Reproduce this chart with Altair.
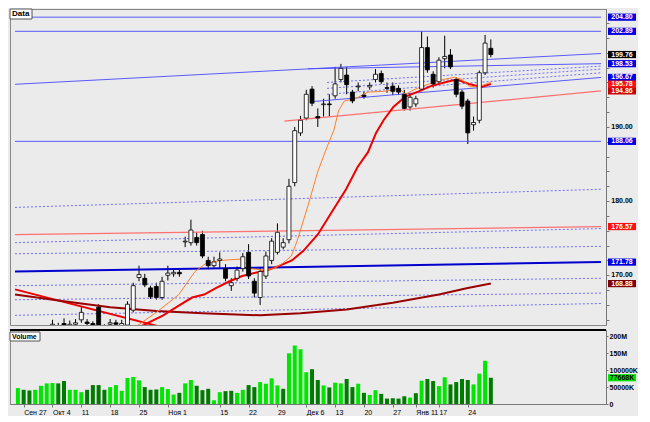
import altair as alt
import pandas as pd

# ---------------- data ----------------
opens = [161.0, 161.4, 161.2, 160.9, 161.8, 162.5, 163.0, 163.2, 163.5, 163.2,
         163.4, 164.0, 163.7, 163.5, 165.7, 163.0, 163.4, 163.6, 163.2, 163.3,
         165.3, 169.7, 169.6, 168.3, 168.5, 167.0, 170.0, 170.2, 170.4, 174.5,
         174.4, 175.1, 175.5, 172.0, 171.3, 172.0, 170.9, 168.6, 169.6, 170.9,
         173.1, 169.2, 167.0, 169.9, 172.0, 173.1, 173.8, 174.8, 182.5, 189.2,
         191.2, 195.1, 191.4, 193.0, 193.1, 194.2, 196.4, 197.0, 194.7, 195.4,
         194.3, 195.4, 196.4, 197.2, 195.3, 195.5, 195.2, 194.4, 192.7, 193.1,
         195.1, 200.7, 197.1, 196.1, 199.2, 199.7, 196.4, 194.7, 193.5, 190.3,
         190.9, 197.3, 200.6]
highs = [161.8, 162.0, 161.8, 162.2, 162.8, 163.3, 164.0, 163.6, 164.2, 163.9,
         164.1, 165.7, 164.1, 163.8, 166.1, 163.4, 164.1, 164.0, 164.0, 166.5,
         169.0, 171.3, 170.2, 168.6, 169.0, 169.8, 171.3, 170.9, 170.9, 175.2,
         177.5, 175.8, 176.0, 172.5, 172.5, 173.1, 171.5, 169.6, 171.2, 173.0,
         174.2, 169.6, 171.0, 173.2, 175.0, 177.0, 175.0, 183.0, 190.0, 191.5,
         195.0, 195.5, 192.5, 193.8, 194.4, 198.1, 198.5, 198.1, 195.0, 196.0,
         194.8, 196.0, 197.8, 197.6, 196.0, 196.0, 195.6, 195.0, 194.5, 194.2,
         202.9, 202.2, 197.5, 199.4, 202.3, 200.5, 196.7, 195.0, 193.8, 191.4,
         197.6, 202.4, 201.8]
lows = [160.2, 160.8, 160.5, 160.6, 161.5, 162.0, 162.5, 162.4, 162.6, 162.7,
        162.9, 163.6, 163.0, 162.5, 162.7, 162.2, 163.0, 162.8, 162.6, 162.8,
        165.0, 169.2, 168.4, 166.8, 166.7, 166.7, 169.3, 169.8, 169.8, 173.8,
        174.0, 174.0, 172.3, 170.8, 171.0, 170.9, 169.2, 167.9, 169.2, 170.5,
        169.5, 167.0, 166.0, 169.5, 171.5, 172.8, 173.5, 174.3, 182.0, 188.8,
        190.9, 192.8, 190.0, 191.4, 191.4, 193.8, 196.0, 194.4, 193.2, 194.8,
        193.8, 195.0, 196.0, 195.8, 194.6, 194.3, 194.3, 192.2, 192.2, 192.7,
        194.8, 197.3, 195.3, 195.8, 197.9, 197.8, 194.0, 192.4, 187.7, 189.5,
        190.5, 197.0, 199.4]
closes = [161.4, 161.2, 160.9, 161.8, 162.5, 162.9, 163.4, 163.0, 163.1, 163.4,
          163.6, 165.0, 163.5, 163.0, 163.1, 162.8, 163.6, 163.4, 163.5, 166.1,
          168.6, 170.1, 168.7, 167.1, 167.0, 169.2, 170.3, 170.4, 170.2, 174.6,
          176.1, 174.4, 172.6, 171.3, 171.8, 172.2, 169.6, 169.0, 170.7, 172.5,
          169.9, 167.6, 170.5, 172.6, 174.6, 175.8, 174.4, 182.0, 189.5, 190.9,
          194.4, 193.2, 191.2, 193.1, 193.0, 195.8, 197.9, 195.7, 193.5, 195.5,
          194.1, 195.6, 197.1, 196.1, 195.2, 194.8, 194.7, 192.5, 194.0, 193.8,
          200.7, 197.7, 195.8, 199.0, 199.5, 198.1, 194.4, 192.8, 189.2, 190.6,
          197.3, 201.3, 199.76]

# volume in millions, and up (1) / down (0) colour flags
volumes = [47, 42, 40, 42, 54, 61, 62, 61, 68, 42, 42, 35, 42, 56, 56, 42, 50, 56, 39, 77,
           80, 70, 50, 42, 43, 50, 44, 28, 33, 61, 71, 54, 41, 45, 11, 35, 38, 39, 33, 42,
           56, 50, 65, 60, 76, 55, 45, 150, 173, 162, 94, 103, 71, 55, 49, 63, 61, 74, 50, 60,
           33, 27, 41, 30, 16, 17, 16, 23, 19, 32, 69, 74, 68, 53, 79, 58, 65, 74, 71, 58,
           90, 128, 77.668]
vol_up = [1, 0, 0, 1, 1, 1, 1, 0, 0, 1, 1, 1, 0, 0, 0, 0, 1, 1, 1, 1,
          1, 1, 0, 0, 0, 1, 1, 1, 0, 1, 1, 0, 0, 0, 1, 1, 0, 0, 1, 1,
          0, 0, 1, 1, 1, 1, 0, 1, 1, 1, 1, 0, 0, 1, 0, 1, 1, 0, 0, 1,
          0, 1, 1, 0, 0, 0, 0, 0, 1, 0, 1, 0, 0, 1, 1, 0, 0, 0, 0, 1,
          1, 1, 0]

# moving averages (bar index, value)
ma_orange = [(19, 163.0), (20.5, 163.1), (24, 165.0), (27.9, 167.4), (30.7, 170.5), (32.6, 171.6),
             (35.1, 172.0), (38.9, 172.2), (40.2, 170.9), (42.6, 170.7), (44.3, 170.9), (45.9, 171.6),
             (47.4, 172.6), (48.4, 174.6), (50.3, 179.4), (52, 184.0), (53.6, 187.3), (54.8, 189.6),
             (55.6, 192.2), (56.6, 193.5), (58.5, 193.8), (60.7, 194.7), (63.4, 194.8), (66.2, 195.1),
             (67.2, 194.4), (68.9, 195.1), (71.1, 195.75), (73.8, 196.4), (75.7, 196.7), (77, 196.4),
             (78.2, 195.5), (79.8, 195.4), (82, 196.0)]
ma_red = [(19.5, 162.3), (21.3, 163.1), (25.2, 164.6), (27.9, 165.9), (30.2, 167.0), (32.3, 167.4),
          (34.4, 168.3), (36.7, 169.2), (38.9, 169.9), (41, 170.3), (43.3, 170.7), (45.4, 171.3),
          (47.5, 172.0), (49.5, 173.3), (52, 175.5), (54.4, 178.5), (56.9, 181.6), (58.9, 184.6),
          (60.7, 186.6), (62.1, 189.2), (63.4, 190.9), (65.1, 192.7), (67.2, 194.1), (69.5, 194.8),
          (71.6, 195.5), (74.4, 196.1), (76.1, 196.4), (78.2, 195.8), (80.3, 195.4), (82, 195.78)]
ma_maroon = [(-0.5, 167.4), (8, 166.5), (16, 165.7), (24, 165.2), (32, 164.9), (42, 164.6),
             (49, 164.9), (57, 165.4), (65, 166.3), (73, 167.4), (78, 168.3), (82, 168.88)]

# trend lines (index1, value1, index2, value2)
lines_blue = [(-0.5, 204.8, 101.1, 204.8), (-0.5, 202.89, 101.1, 202.89), (-0.5, 188.06, 101.1, 188.06),
              (-0.5, 195.75, 101.1, 199.9), (50.3, 197.84, 101.1, 198.53), (50.8, 193.4, 101.1, 196.67)]
lines_blue_thick = [(-0.5, 170.5, 101.1, 171.78)]
lines_pink = [(46.2, 190.78, 101.1, 194.86), (-0.5, 175.49, 101.1, 176.57)]
lines_red = [(-0.5, 168.1, 30, 162.0)]
lines_dotted = [(53.6, 196.0, 101.1, 198.2), (53.6, 195.2, 101.1, 197.8), (53.6, 194.4, 101.1, 197.3),
                (-0.5, 179.15, 101.1, 181.6), (-0.5, 174.4, 101.1, 176.3), (-0.5, 172.9, 101.1, 173.9),
                (-0.5, 168.6, 101.1, 169.6), (-0.5, 166.7, 101.1, 167.6), (-0.5, 164.6, 101.1, 166.2)]

# right-hand price labels
lab_blue = [204.80, 202.89, 198.53, 196.67, 188.06, 171.78]
lab_red = [195.78, 176.57]
lab_darkred = [194.86]
lab_maroon = [168.88]
lab_black = [199.76]
lab_plain = [190.00, 180.00, 170.00]
vol_last = [77.668]

# x-axis date labels
tick_idx = [1, 6, 11, 16, 21, 26, 35, 40, 45, 50, 55, 60, 65, 69, 73, 78]
tick_txt = ["Сен 27", "Окт 4", "11", "18", "25", "Ноя 1", "15", "22", "29",
            "Дек 6", "13", "20", "27", "Янв 11", "17", "24"]

# ---------------- chart ----------------
W, P, V = 596, 316, 74
XDOM = [-0.5, 101.1]
YDOM = [163.3, 205.9]
VDOM = [0, 219]
xs = alt.Scale(domain=XDOM, nice=False, zero=False)
ys = alt.Scale(domain=YDOM, nice=False, zero=False)
vs = alt.Scale(domain=VDOM, nice=False, zero=True)
FONT = "Liberation Sans"
BW, BH = 28, 7.2
BOX = "M-1,-%.3fL1,-%.3fL1,%.3fL-1,%.3fZ" % ((BH / BW,) * 4)

YAX = alt.Axis(orient="right", labels=False, values=list(range(164, 206, 2)), tickSize=3, grid=False,
               title=None, domainColor="#777", tickColor="#777")
vlab = ("datum.value==200?'200M':datum.value==150?'150M':datum.value==100?'100000K':"
        "datum.value==50?'50000K':'0'")
VAX = alt.Axis(orient="right", values=[0, 50, 100, 150, 200], labelExpr=vlab, tickSize=2,
               labelPadding=1, labelFontSize=7, labelFontWeight="bold", title=None, grid=False,
               domainColor="#777", tickColor="#777", labelOverlap=False)

candles = pd.DataFrame({"i": list(range(len(opens))), "o": opens, "h": highs, "l": lows, "c": closes})


def seg_df(segs):
    return pd.DataFrame(segs, columns=["i1", "v1", "i2", "v2"])


def ma_df(pts):
    return pd.DataFrame(pts, columns=["i", "v"])


X = lambda f: alt.X(f, type="quantitative", scale=xs, axis=None)
Y = lambda f: alt.Y(f, type="quantitative", scale=ys, axis=YAX)


def seg_layer(segs, color, width, dash=None, opacity=1.0):
    kw = dict(color=color, strokeWidth=width, clip=True, opacity=opacity)
    if dash:
        kw["strokeDash"] = dash
    return alt.Chart(seg_df(segs)).mark_rule(**kw).encode(
        x=X("i1"), x2="i2", y=Y("v1"), y2="v2")


def ma_layer(pts, color, width):
    return alt.Chart(ma_df(pts)).mark_line(color=color, strokeWidth=width, clip=True).encode(
        x=X("i"), y=Y("v"), order="i:Q")


def label_layer(vals, bg, fg):
    d = pd.DataFrame({"v": vals})
    layers = []
    if bg:
        layers.append(alt.Chart(d).mark_point(shape=BOX, filled=True, size=BW * BW, color=bg, opacity=1).encode(
            x=alt.value(W + 16), y=Y("v")))
    layers.append(alt.Chart(d).mark_text(font=FONT, fontSize=7, fontWeight="bold", color=fg,
                                         align="center", baseline="middle").encode(
        x=alt.value(W + 16), y=Y("v"), text=alt.Text("v:Q", format=".2f")))
    return layers


wicks = alt.Chart(candles).mark_rule(color="black", strokeWidth=1, clip=True).encode(
    x=X("i"), y=Y("l"), y2="h:Q")

bodies = alt.Chart(candles).mark_bar(size=4, stroke="black", strokeWidth=0.8, clip=True).encode(
    x=X("i"), y=Y("o"), y2="c:Q",
    fill=alt.condition("datum.c >= datum.o", alt.value("white"), alt.value("black")))

data_box = alt.Chart(pd.DataFrame({"t": ["Data"]})).mark_rect(fill="white", stroke="#555", strokeWidth=1).encode(
    x=alt.value(0), x2=alt.value(22), y=alt.value(0), y2=alt.value(10))
data_txt = alt.Chart(pd.DataFrame({"t": ["Data"]})).mark_text(font=FONT, fontSize=8, fontWeight="bold",
                                                               align="left", baseline="middle").encode(
    x=alt.value(2), y=alt.value(5), text="t:N")

price_layers = [
    wicks,
    seg_layer(lines_dotted, "#5a5aff", 1, dash=[2, 2], opacity=0.85),
    seg_layer(lines_blue, "#4a4aff", 1, opacity=0.9),
    seg_layer(lines_pink, "#ff7070", 1.3),
    seg_layer(lines_blue_thick, "#0000cc", 2),
    seg_layer(lines_red, "#ee0000", 2),
    ma_layer(ma_maroon, "#990000", 2),
    ma_layer(ma_red, "#ee0000", 2),
    ma_layer(ma_orange, "#ff7f2a", 1),
    bodies,
    data_box, data_txt,
]
price_layers += label_layer(lab_blue, "#0000e0", "white")
price_layers += label_layer(lab_red, "#ff1010", "white")
price_layers += label_layer(lab_darkred, "#cc0000", "white")
price_layers += label_layer(lab_maroon, "#800000", "white")
price_layers += label_layer(lab_black, "black", "white")
price_layers += label_layer(lab_plain, None, "black")

price = alt.layer(*price_layers).properties(width=W, height=P)

# volume panel
vol = pd.DataFrame({"i": list(range(len(volumes))), "vol": volumes, "up": vol_up})
xlab = "".join(f"datum.value=={i}?'{t}':" for i, t in zip(tick_idx, tick_txt)) + "''"

vbars = alt.Chart(vol).mark_bar(size=4).encode(
    x=alt.X("i:Q", scale=xs,
            axis=alt.Axis(values=tick_idx, labelExpr=xlab, labelAlign="left", labelPadding=1, tickSize=3,
                          labelFontSize=7, title=None, grid=False, domainColor="#777", tickColor="#777",
                          labelFlush=False, labelOverlap=False)),
    y=alt.Y("vol:Q", scale=vs, axis=VAX),
    color=alt.condition("datum.up == 1", alt.value("#00e600"), alt.value("#007a00")))

vlast = pd.DataFrame({"vol": vol_last})
vlast_box = alt.Chart(vlast).mark_point(shape=BOX, filled=True, size=BW * BW, color="#00e600", opacity=1).encode(
    x=alt.value(W + 16), y=alt.Y("vol:Q", scale=vs, axis=VAX))
vlast_txt = alt.Chart(vlast).mark_text(font=FONT, fontSize=7, fontWeight="bold", color="black",
                                       align="center", baseline="middle").encode(
    x=alt.value(W + 16), y=alt.Y("vol:Q", scale=vs, axis=VAX), text=alt.value("77668K"))
sep = alt.Chart(vlast).mark_rule(color="black", strokeWidth=2).encode(
    x=alt.value(0), x2=alt.value(W), y=alt.value(0))
vol_box = alt.Chart(pd.DataFrame({"t": ["Volume"]})).mark_rect(fill="white", stroke="#555", strokeWidth=1).encode(
    x=alt.value(0), x2=alt.value(30), y=alt.value(2), y2=alt.value(11))
vol_txt = alt.Chart(pd.DataFrame({"t": ["Volume"]})).mark_text(font=FONT, fontSize=7, fontWeight="bold",
                                                                align="left", baseline="middle").encode(
    x=alt.value(2), y=alt.value(6.5), text="t:N")

volume = alt.layer(vbars, vlast_box, vlast_txt, sep, vol_box, vol_txt).properties(width=W, height=V)

chart = alt.vconcat(price, volume, spacing=2).properties(
    padding={"left": 0, "top": 0, "right": 0, "bottom": 0}
).configure(background="#ebebeb").configure_view(stroke="#888", strokeWidth=1).configure_axis(
    labelFont=FONT, labelColor="black")

chart.save("out.html", embed_options={"renderer": "svg", "actions": False})
